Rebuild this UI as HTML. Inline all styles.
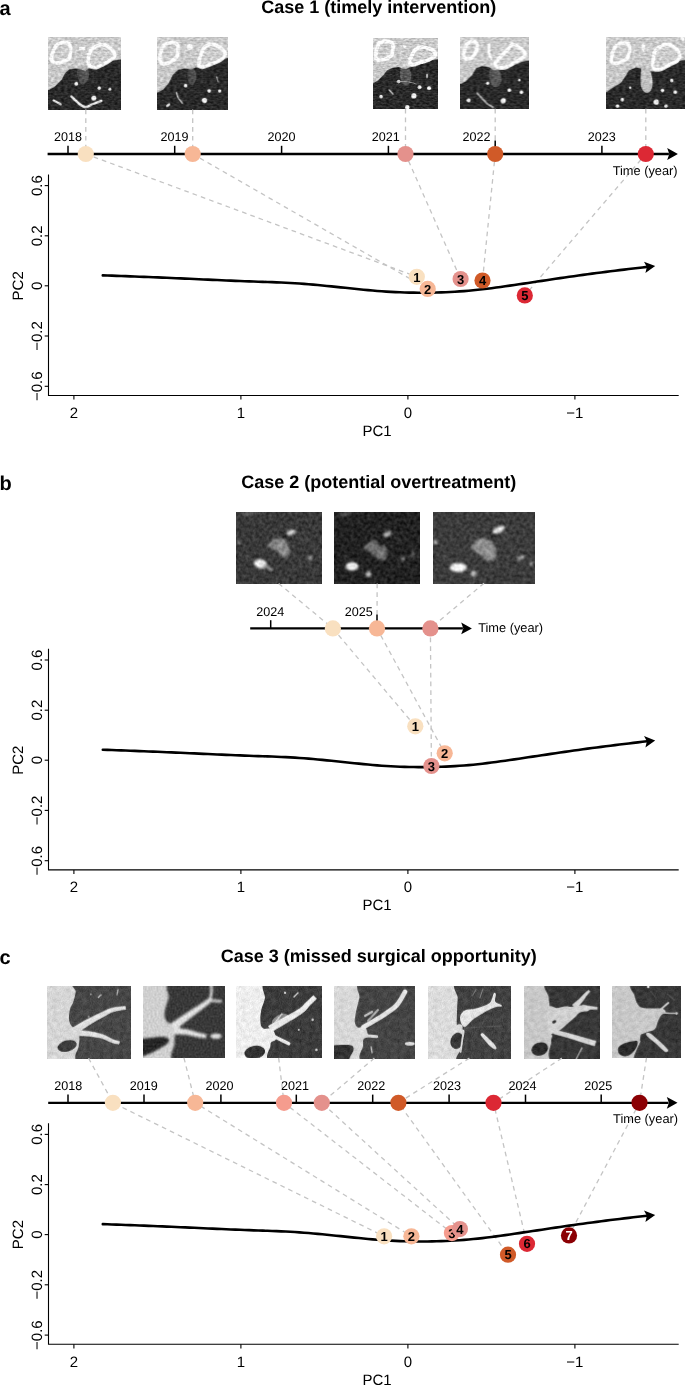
<!DOCTYPE html><html><head><meta charset="utf-8"><style>html,body{margin:0;padding:0;background:#fff;width:685px;height:1385px;overflow:hidden}svg{display:block;will-change:transform}text{font-family:"Liberation Sans", sans-serif;text-rendering:geometricPrecision}</style></head><body>
<svg width="685" height="1385" viewBox="0 0 685 1385">
<defs><filter id="fa" x="0" y="0" width="100%" height="100%" color-interpolation-filters="sRGB"><feGaussianBlur in="SourceGraphic" stdDeviation="0.45" result="b"/><feTurbulence type="fractalNoise" baseFrequency="0.3 0.6" numOctaves="2" seed="3" result="n0"/><feGaussianBlur in="n0" stdDeviation="0.6" result="n"/><feColorMatrix in="n" type="matrix" values="1 0 0 0 0  1 0 0 0 0  1 0 0 0 0  0 0 0 0 1" result="g"/><feComposite in="b" in2="g" operator="arithmetic" k1="0.2" k2="0.9" k3="0.3" k4="-0.15"/></filter><filter id="fb" x="0" y="0" width="100%" height="100%" color-interpolation-filters="sRGB"><feGaussianBlur in="SourceGraphic" stdDeviation="0.9" result="b"/><feTurbulence type="fractalNoise" baseFrequency="0.3" numOctaves="2" seed="7" result="n0"/><feGaussianBlur in="n0" stdDeviation="0.7" result="n"/><feColorMatrix in="n" type="matrix" values="1 0 0 0 0  1 0 0 0 0  1 0 0 0 0  0 0 0 0 1" result="g"/><feComposite in="b" in2="g" operator="arithmetic" k1="0.0" k2="1.0" k3="0.3" k4="-0.15"/></filter><filter id="fc" x="0" y="0" width="100%" height="100%" color-interpolation-filters="sRGB"><feGaussianBlur in="SourceGraphic" stdDeviation="0.55" result="b"/><feTurbulence type="fractalNoise" baseFrequency="0.3" numOctaves="2" seed="11" result="n1"/><feGaussianBlur in="n1" stdDeviation="0.8" result="m1"/><feColorMatrix in="m1" type="matrix" values="1 0 0 0 0  1 0 0 0 0  1 0 0 0 0  0 0 0 0 1" result="g1"/><feComposite in="b" in2="g1" operator="arithmetic" k1="0" k2="1" k3="0.3" k4="-0.15" result="c1"/><feTurbulence type="fractalNoise" baseFrequency="0.9" numOctaves="1" seed="12" result="n2"/><feColorMatrix in="n2" type="matrix" values="1 0 0 0 0  1 0 0 0 0  1 0 0 0 0  0 0 0 0 1" result="g2"/><feComposite in="c1" in2="g2" operator="arithmetic" k1="0" k2="1" k3="0.18" k4="-0.09"/></filter><filter id="fc2" x="0" y="0" width="100%" height="100%" color-interpolation-filters="sRGB"><feGaussianBlur in="SourceGraphic" stdDeviation="1.0" result="b"/><feTurbulence type="fractalNoise" baseFrequency="0.5" numOctaves="2" seed="13" result="n0"/><feGaussianBlur in="n0" stdDeviation="0.4" result="n"/><feColorMatrix in="n" type="matrix" values="1 0 0 0 0  1 0 0 0 0  1 0 0 0 0  0 0 0 0 1" result="g"/><feComposite in="b" in2="g" operator="arithmetic" k1="0.0" k2="1.0" k3="0.2" k4="-0.1"/></filter></defs>
<rect width="685" height="1385" fill="#fff"/>
<g transform="translate(0,0)">
<text x="-0.6" y="15.2" font-size="20" font-weight="bold">a</text>
<text x="378.8" y="13.3" font-size="18" font-weight="bold" text-anchor="middle">Case 1 (timely intervention)</text>
<svg x="48.1" y="36.8" width="72.3" height="72.7" viewBox="0 0 72.3 72.7" preserveAspectRatio="none" overflow="hidden"><g filter="url(#fa)"><rect x="-4" y="-4" width="80.3" height="80.7" fill="#c9c9c9"/><polygon points="-4,53.3 0,53.3 6.4,50 13.9,42.6 17,36.2 21.3,32.5 27.7,31.4 33,32.5 37.3,34.1 40.5,31.5 48,31.4 55.4,28.8 64,24 72.3,22.4 76.3,22.4 76.3,76.7 -4,76.7" fill="#2a2a2a" /><path d="M9.11,7.66 C11.11,6.37 15.46,5.47 17.59,5.61 C19.72,5.74 21.04,7.02 21.88,8.46 C22.72,9.9 22.68,12.2 22.64,14.23 C22.6,16.26 22.52,19.08 21.65,20.67 C20.78,22.26 19.35,22.91 17.42,23.78 C15.49,24.64 12.26,25.73 10.06,25.88 C7.87,26.03 5.35,25.6 4.24,24.67 C3.13,23.74 3.18,22.19 3.41,20.3 C3.63,18.41 4.65,15.43 5.6,13.33 C6.55,11.22 7.11,8.95 9.11,7.66Z" fill="#cccccc" stroke="#ffffff" stroke-width="3.6"/><path d="M45.66,10.71 C47.46,9.29 49.82,7.99 52.17,7.8 C54.53,7.61 57.53,8.33 59.8,9.57 C62.06,10.81 64.66,13.5 65.75,15.25 C66.83,17.01 67.48,18.35 66.31,20.08 C65.13,21.81 61.69,23.85 58.71,25.61 C55.73,27.37 51.27,30.12 48.4,30.66 C45.54,31.2 42.88,29.95 41.51,28.83 C40.14,27.71 40.21,26.03 40.18,23.94 C40.16,21.86 40.45,18.53 41.36,16.32 C42.27,14.12 43.86,12.13 45.66,10.71Z" fill="#cccccc" stroke="#ffffff" stroke-width="3.6"/><polygon points="31,10 37.3,10 37.3,13.3 31,13.3" fill="#ffffff" /><path d="M31,29 C32.08,28.25 34.5,28 36,28.5 C37.5,29 39.17,30.08 40,32 C40.83,33.92 41.33,37.67 41,40 C40.67,42.33 39.33,44.83 38,46 C36.67,47.17 34.42,48 33,47 C31.58,46 30.08,42.33 29.5,40 C28.92,37.67 29.25,34.83 29.5,33 C29.75,31.17 29.92,29.75 31,29Z" fill="#a0a0a0" opacity="0.35"/><circle cx="28.2" cy="46.9" r="1.9" fill="#f2f2f2"/><circle cx="45.8" cy="61.3" r="2.5" fill="#f2f2f2"/><circle cx="51.2" cy="51.2" r="1.7" fill="#f2f2f2"/><circle cx="61.8" cy="52.2" r="1.5" fill="#f2f2f2"/><path d="M23.4,59.7 C24.5,60.75 27.68,64.23 30,66 C32.32,67.77 34.8,70.13 37.3,70.3 C39.8,70.47 42.33,68.05 45,67 C47.67,65.95 51.92,64.5 53.3,64" fill="none" stroke="#e8e8e8" stroke-width="2.4" stroke-linecap="round" stroke-linejoin="round" /><path d="M5.4,63.5 C6.63,64.17 11.57,66.83 12.8,67.5" fill="none" stroke="#e0e0e0" stroke-width="2" stroke-linecap="round" stroke-linejoin="round" /></g></svg>
<svg x="157.2" y="36.8" width="71" height="72.7" viewBox="0 0 71 72.7" preserveAspectRatio="none" overflow="hidden"><g filter="url(#fa)"><rect x="-4" y="-4" width="79" height="80.7" fill="#c9c9c9"/><polygon points="-4,55.7 0,55.7 6.3,52.6 11.6,46.3 15.8,37.8 21,33.1 27.3,31.5 33.6,32.6 38.9,30.5 46.3,31.5 54.7,27.9 63,22.6 71,21 75,21 75,76.7 -4,76.7" fill="#2a2a2a" /><path d="M6.95,8.04 C8.77,6.91 13.07,5.47 15.32,5.52 C17.57,5.56 19.55,6.76 20.45,8.33 C21.35,9.9 20.92,12.91 20.72,14.92 C20.52,16.93 20.33,18.78 19.25,20.37 C18.17,21.96 16.3,23.36 14.23,24.48 C12.16,25.6 8.78,27.15 6.84,27.11 C4.91,27.07 3.29,25.69 2.64,24.26 C1.99,22.84 2.66,20.54 2.96,18.55 C3.25,16.56 3.74,14.06 4.41,12.31 C5.07,10.56 5.13,9.17 6.95,8.04Z" fill="#cccccc" stroke="#ffffff" stroke-width="3.6"/><path d="M47.13,10.55 C48.69,8.6 50.59,7.43 52.77,7.19 C54.96,6.94 58.04,8.08 60.24,9.08 C62.45,10.08 64.73,11.7 66.02,13.18 C67.32,14.66 68.52,16.23 68,17.96 C67.48,19.68 65.11,22 62.89,23.5 C60.66,25.01 57.62,25.85 54.63,27 C51.64,28.15 47.12,30.3 44.96,30.39 C42.79,30.49 41.89,29.5 41.63,27.58 C41.37,25.66 42.48,21.69 43.4,18.86 C44.31,16.02 45.57,12.49 47.13,10.55Z" fill="#cccccc" stroke="#ffffff" stroke-width="3.6"/><circle cx="32.6" cy="10" r="3" fill="#ffffff"/><path d="M31,33 C31.83,31.75 33.83,31.33 35,31.5 C36.17,31.67 37.33,32.25 38,34 C38.67,35.75 39.33,39.67 39,42 C38.67,44.33 37.17,47.33 36,48 C34.83,48.67 33,47.5 32,46 C31,44.5 30.17,41.17 30,39 C29.83,36.83 30.17,34.25 31,33Z" fill="#a0a0a0" opacity="0.3"/><circle cx="28.4" cy="48.9" r="1.8" fill="#f2f2f2"/><circle cx="52" cy="54.1" r="1.8" fill="#f2f2f2"/><circle cx="62.5" cy="54.1" r="1.7" fill="#f2f2f2"/><circle cx="47.3" cy="63.6" r="2.6" fill="#f2f2f2"/><ellipse cx="11" cy="68.3" rx="2.5" ry="1.3" transform="rotate(-40 11 68.3)" fill="#ddd" /><path d="M19.4,55.7 C19.67,56.58 20.03,59.25 21,61 C21.97,62.75 24.5,65.33 25.2,66.2" fill="none" stroke="#bdbdbd" stroke-width="1.4" stroke-linecap="round" stroke-linejoin="round" /><path d="M59.5,40 C59.75,40.83 60.75,44.17 61,45" fill="none" stroke="#aaa" stroke-width="1.2" stroke-linecap="round" stroke-linejoin="round" /></g></svg>
<svg x="373.1" y="37.9" width="64.8" height="70.9" viewBox="0 0 64.8 70.9" preserveAspectRatio="none" overflow="hidden"><g filter="url(#fa)"><rect x="-4" y="-4" width="72.8" height="78.9" fill="#c9c9c9"/><polygon points="-4,45.5 0,45.5 5.7,41.7 10.4,37 14.2,32.3 19,29.9 25.6,28.9 29.4,30.4 33,31 36,29.4 42.7,28.5 50.3,24.7 57,22.3 64.8,21.3 68.8,21.3 68.8,74.9 -4,74.9" fill="#2a2a2a" /><path d="M6.43,5 C8.05,3.87 11.74,3.28 13.83,3.25 C15.91,3.22 17.9,3.69 18.93,4.81 C19.95,5.92 19.94,7.99 19.97,9.94 C20,11.89 19.9,14.89 19.13,16.51 C18.36,18.14 17.22,18.71 15.37,19.71 C13.52,20.7 10.03,22.27 8.03,22.47 C6.04,22.67 4.26,22.02 3.37,20.89 C2.49,19.77 2.6,17.56 2.72,15.75 C2.85,13.93 3.48,11.81 4.1,10.02 C4.72,8.23 4.8,6.13 6.43,5Z" fill="#cccccc" stroke="#ffffff" stroke-width="3.6"/><path d="M41.9,12.27 C43.26,11.04 45.24,9.29 47.57,8.99 C49.9,8.69 53.62,9.69 55.9,10.48 C58.18,11.27 60.29,12.45 61.26,13.71 C62.23,14.97 62.63,16.66 61.7,18.05 C60.78,19.44 58.06,21.01 55.71,22.06 C53.37,23.1 50.39,23.55 47.61,24.32 C44.83,25.08 40.89,26.82 39.02,26.64 C37.15,26.46 36.31,24.93 36.37,23.22 C36.43,21.51 38.47,18.21 39.39,16.38 C40.31,14.56 40.53,13.5 41.9,12.27Z" fill="#cccccc" stroke="#ffffff" stroke-width="3.6"/><polygon points="29.4,6.7 34.2,8.5 31,10.5" fill="#ffffff" /><path d="M28,30 C29,28.58 31.5,29.17 33,29.5 C34.5,29.83 36.17,30.25 37,32 C37.83,33.75 38.33,37.5 38,40 C37.67,42.5 36.33,46 35,47 C33.67,48 31.33,47.5 30,46 C28.67,44.5 27.33,40.67 27,38 C26.67,35.33 27,31.42 28,30Z" fill="#a0a0a0" opacity="0.4"/><circle cx="25.6" cy="43.6" r="1.8" fill="#f2f2f2"/><circle cx="46.5" cy="49.3" r="2" fill="#f2f2f2"/><circle cx="56" cy="50.3" r="2" fill="#f2f2f2"/><circle cx="40.8" cy="57.9" r="2.6" fill="#f2f2f2"/><circle cx="8" cy="58.8" r="1.8" fill="#f2f2f2"/><ellipse cx="54" cy="38" rx="1" ry="2.5" transform="rotate(0 54 38)" fill="#ccc" /><circle cx="34.2" cy="69.3" r="2.2" fill="#f2f2f2"/><path d="M16,52 C16.67,52.67 19.33,55.33 20,56" fill="none" stroke="#bbb" stroke-width="1.4" stroke-linecap="round" stroke-linejoin="round" /><path d="M24,44 C25.17,43.92 28.67,43.42 31,43.5 C33.33,43.58 36,44.08 38,44.5 C40,44.92 42.17,45.75 43,46" fill="none" stroke="#9a9a9a" stroke-width="1" stroke-linecap="round" stroke-linejoin="round" /></g></svg>
<svg x="460.5" y="36.8" width="68.3" height="72" viewBox="0 0 68.3 72" preserveAspectRatio="none" overflow="hidden"><g filter="url(#fa)"><rect x="-4" y="-4" width="76.3" height="80" fill="#c9c9c9"/><polygon points="-4,47.3 0,47.3 5.5,44.3 11.6,38.3 15.6,31.2 21.7,29.2 28.7,30.2 32.7,33.2 38.8,33.2 46.8,32.2 53.9,28.2 61.9,24.7 68.3,23.7 72.3,23.7 72.3,76 -4,76" fill="#2a2a2a" /><path d="M6.19,7.42 C7.44,6.35 10.48,4.59 12.21,4.54 C13.93,4.5 15.89,5.81 16.56,7.14 C17.23,8.46 16.69,10.64 16.21,12.49 C15.74,14.34 14.8,16.65 13.7,18.23 C12.59,19.82 11.17,21.5 9.6,22 C8.03,22.5 5.35,22.13 4.29,21.24 C3.23,20.35 3.17,18.38 3.25,16.66 C3.32,14.94 4.26,12.47 4.75,10.93 C5.24,9.39 4.95,8.48 6.19,7.42Z" fill="#cccccc" stroke="#ffffff" stroke-width="3.6"/><path d="M34.99,25.86 C35.88,24.02 39.14,20.72 41.18,18.51 C43.23,16.3 45.5,14.45 47.25,12.63 C49,10.8 50.03,8.11 51.67,7.58 C53.31,7.05 55.24,8.39 57.08,9.44 C58.93,10.49 61.47,12.38 62.72,13.88 C63.98,15.38 65.3,16.92 64.61,18.43 C63.91,19.94 61.04,21.34 58.58,22.93 C56.12,24.53 52.54,26.62 49.87,28 C47.19,29.38 44.88,30.95 42.54,31.21 C40.2,31.48 37.1,30.48 35.84,29.59 C34.58,28.7 34.1,27.71 34.99,25.86Z" fill="#cccccc" stroke="#ffffff" stroke-width="3.6"/><path d="M28.7,7 C28.7,8.5 28.32,13.5 28.7,16 C29.08,18.5 30.62,21 31,22" fill="none" stroke="#ffffff" stroke-width="2.4" stroke-linecap="round" stroke-linejoin="round" /><path d="M30,32 C31.17,30.5 34.33,31.33 36,32 C37.67,32.67 39.17,34 40,36 C40.83,38 41.5,41.67 41,44 C40.5,46.33 38.5,49.17 37,50 C35.5,50.83 33.33,50.5 32,49 C30.67,47.5 29.33,43.83 29,41 C28.67,38.17 28.83,33.5 30,32Z" fill="#a0a0a0" opacity="0.4"/><circle cx="8.1" cy="63.4" r="2" fill="#f2f2f2"/><circle cx="42.8" cy="63.9" r="2.6" fill="#f2f2f2"/><circle cx="48.8" cy="53.4" r="1.8" fill="#f2f2f2"/><circle cx="60.9" cy="55.4" r="1.8" fill="#f2f2f2"/><circle cx="27.2" cy="46.3" r="1.6" fill="#f2f2f2"/><circle cx="58.9" cy="43.3" r="1.2" fill="#f2f2f2"/><path d="M16.6,56.4 C17.5,57.33 20.27,60.23 22,62 C23.73,63.77 25.22,65.58 27,67 C28.78,68.42 31.75,69.92 32.7,70.5" fill="none" stroke="#a8a8a8" stroke-width="1.8" stroke-linecap="round" stroke-linejoin="round" /></g></svg>
<svg x="606.2" y="36.8" width="80" height="72" viewBox="0 0 80 72" preserveAspectRatio="none" overflow="hidden"><g filter="url(#fa)"><rect x="-4" y="-4" width="88" height="80" fill="#c9c9c9"/><polygon points="-4,55.4 0,55.4 6.7,50.7 14.8,46.1 19.4,39.2 22.9,33.4 29.8,30.6 36.7,32.3 38,36 43.6,34.6 52.9,34.6 62.1,28.8 71.3,24.2 80,23 84,23 84,76 -4,76" fill="#2a2a2a" /><path d="M10.75,8.39 C12.4,7.33 15.79,6.17 17.83,6.12 C19.87,6.07 22.09,6.52 22.99,8.07 C23.88,9.61 23.43,13.32 23.21,15.37 C22.99,17.42 22.75,18.87 21.66,20.36 C20.57,21.84 18.68,23.22 16.67,24.27 C14.66,25.31 11.45,26.56 9.58,26.62 C7.7,26.69 6.06,26.02 5.42,24.64 C4.79,23.27 5.36,20.42 5.76,18.39 C6.17,16.36 7.05,14.12 7.88,12.45 C8.71,10.79 9.09,9.45 10.75,8.39Z" fill="#cccccc" stroke="#ffffff" stroke-width="3.6"/><path d="M49.33,13.72 C50.86,11.82 54.46,9.54 56.54,8.48 C58.61,7.42 59.5,6.69 61.77,7.36 C64.04,8.03 68.2,10.76 70.15,12.49 C72.09,14.22 73.25,15.83 73.42,17.75 C73.59,19.67 72.79,22.33 71.15,24.01 C69.52,25.7 66.22,26.47 63.61,27.84 C61.01,29.21 57.97,31.47 55.55,32.24 C53.12,33.02 50.56,33.17 49.07,32.5 C47.57,31.83 46.85,30.34 46.57,28.24 C46.3,26.13 46.94,22.29 47.4,19.87 C47.86,17.45 47.81,15.62 49.33,13.72Z" fill="#cccccc" stroke="#ffffff" stroke-width="3.6"/><path d="M35.6,8 C35.93,7 37.43,6.5 38,7 C38.57,7.5 39.08,9.67 39,11 C38.92,12.33 38,14.67 37.5,15 C37,15.33 36.32,14.17 36,13 C35.68,11.83 35.27,9 35.6,8Z" fill="#ffffff" /><path d="M36,29 C37.17,28.5 40.5,28.67 42,30 C43.5,31.33 44.25,34.33 45,37 C45.75,39.67 46.58,43.17 46.5,46 C46.42,48.83 45.75,52.42 44.5,54 C43.25,55.58 40.58,56.17 39,55.5 C37.42,54.83 35.75,52.42 35,50 C34.25,47.58 34.5,43.83 34.5,41 C34.5,38.17 34.75,35 35,33 C35.25,31 34.83,29.5 36,29Z" fill="#c2c2c2" /><circle cx="50" cy="65.2" r="2.6" fill="#f2f2f2"/><circle cx="56.3" cy="53.6" r="1.8" fill="#f2f2f2"/><circle cx="65.5" cy="43.8" r="1.8" fill="#f2f2f2"/><circle cx="69" cy="55.4" r="1.8" fill="#f2f2f2"/><circle cx="16" cy="62.9" r="1.8" fill="#f2f2f2"/><circle cx="24" cy="50.7" r="1.2" fill="#f2f2f2"/><circle cx="11.3" cy="69.2" r="1.8" fill="#f2f2f2"/><circle cx="59.8" cy="69.2" r="1.8" fill="#f2f2f2"/><circle cx="76" cy="2" r="2" fill="#ffffff"/></g></svg>
<polyline points="85.8,109.5 85.8,154 416.8,276.8" fill="none" stroke="#c4c4c4" stroke-width="1.3" stroke-dasharray="4.7 4.1"/>
<polyline points="192.7,109.5 192.7,154 427.7,288.9" fill="none" stroke="#c4c4c4" stroke-width="1.3" stroke-dasharray="4.7 4.1"/>
<polyline points="405.5,108.8 405.5,154 460.6,279" fill="none" stroke="#c4c4c4" stroke-width="1.3" stroke-dasharray="4.7 4.1"/>
<polyline points="495.2,108.8 495.2,154 482.5,280.5" fill="none" stroke="#c4c4c4" stroke-width="1.3" stroke-dasharray="4.7 4.1"/>
<polyline points="645.8,108.8 645.8,154 524.8,295.4" fill="none" stroke="#c4c4c4" stroke-width="1.3" stroke-dasharray="4.7 4.1"/>
<line x1="47.6" y1="154" x2="668.9" y2="154" stroke="#000" stroke-width="2.3"/>
<path d="M677.9,154 L667.2,148.1 L669.3,154 L667.2,159.9 Z" fill="#000"/>
<line x1="68" y1="145.8" x2="68" y2="154" stroke="#000" stroke-width="1.5"/>
<text x="68" y="141.4" font-size="12.6" text-anchor="middle">2018</text>
<line x1="174.7" y1="145.8" x2="174.7" y2="154" stroke="#000" stroke-width="1.5"/>
<text x="174.5" y="141.4" font-size="12.6" text-anchor="middle">2019</text>
<line x1="281.6" y1="145.8" x2="281.6" y2="154" stroke="#000" stroke-width="1.5"/>
<text x="281.6" y="141.4" font-size="12.6" text-anchor="middle">2020</text>
<line x1="388.4" y1="145.8" x2="388.4" y2="154" stroke="#000" stroke-width="1.5"/>
<text x="385.8" y="141.4" font-size="12.6" text-anchor="middle">2021</text>
<line x1="495.2" y1="140.5" x2="495.2" y2="154" stroke="#000" stroke-width="1.5"/>
<text x="476.4" y="141.4" font-size="12.6" text-anchor="middle">2022</text>
<line x1="601.9" y1="145.8" x2="601.9" y2="154" stroke="#000" stroke-width="1.5"/>
<text x="601.7" y="141.4" font-size="12.6" text-anchor="middle">2023</text>
<circle cx="85.8" cy="154" r="8.1" fill="#F9E0C0"/>
<circle cx="192.7" cy="154" r="8.1" fill="#F7B796"/>
<circle cx="405.5" cy="154" r="8.1" fill="#E4918C"/>
<circle cx="495.2" cy="154" r="8.1" fill="#D05A28"/>
<circle cx="645.8" cy="154" r="8.1" fill="#DC2834"/>
<text x="612.7" y="174.7" font-size="12.8">Time (year)</text>
<path d="M48.5,174.4 V395.5 H678.7" fill="none" stroke="#000" stroke-width="1.1"/>
<line x1="44.7" y1="185.6" x2="48.5" y2="185.6" stroke="#000" stroke-width="1.1"/>
<text transform="translate(41.6,185.6) rotate(-90)" font-size="15" text-anchor="middle">0.6</text>
<line x1="44.7" y1="235.8" x2="48.5" y2="235.8" stroke="#000" stroke-width="1.1"/>
<text transform="translate(41.6,235.8) rotate(-90)" font-size="15" text-anchor="middle">0.2</text>
<line x1="44.7" y1="285.8" x2="48.5" y2="285.8" stroke="#000" stroke-width="1.1"/>
<text transform="translate(41.6,285.8) rotate(-90)" font-size="15" text-anchor="middle">0</text>
<line x1="44.7" y1="336" x2="48.5" y2="336" stroke="#000" stroke-width="1.1"/>
<text transform="translate(41.6,336) rotate(-90)" font-size="15" text-anchor="middle">−0.2</text>
<line x1="44.7" y1="386.3" x2="48.5" y2="386.3" stroke="#000" stroke-width="1.1"/>
<text transform="translate(41.6,386.3) rotate(-90)" font-size="15" text-anchor="middle">−0.6</text>
<text transform="translate(23.2,285.8) rotate(-90)" font-size="15" text-anchor="middle">PC2</text>
<line x1="73.9" y1="395.5" x2="73.9" y2="399.6" stroke="#000" stroke-width="1.1"/>
<text x="73.9" y="418" font-size="15" text-anchor="middle">2</text>
<line x1="240.9" y1="395.5" x2="240.9" y2="399.6" stroke="#000" stroke-width="1.1"/>
<text x="240.9" y="418" font-size="15" text-anchor="middle">1</text>
<line x1="407.9" y1="395.5" x2="407.9" y2="399.6" stroke="#000" stroke-width="1.1"/>
<text x="407.9" y="418" font-size="15" text-anchor="middle">0</text>
<line x1="574.9" y1="395.5" x2="574.9" y2="399.6" stroke="#000" stroke-width="1.1"/>
<text x="574.9" y="418" font-size="15" text-anchor="middle">−1</text>
<text x="377" y="436" font-size="15" text-anchor="middle">PC1</text>
<path d="M102.8,275.35 L107.37,275.51 L111.95,275.67 L116.52,275.84 L121.09,276 L125.67,276.17 L130.24,276.33 L134.81,276.5 L139.38,276.68 L143.96,276.85 L148.53,277.03 L153.1,277.21 L157.68,277.39 L162.25,277.58 L166.82,277.78 L171.4,277.98 L175.97,278.18 L180.54,278.38 L185.12,278.59 L189.69,278.8 L194.26,279.01 L198.84,279.22 L203.41,279.43 L207.98,279.64 L212.55,279.85 L217.13,280.06 L221.7,280.26 L226.27,280.46 L230.85,280.65 L235.42,280.84 L239.99,281.02 L244.57,281.2 L249.14,281.37 L253.71,281.53 L258.29,281.69 L262.86,281.84 L267.43,282 L272.01,282.17 L276.58,282.35 L281.15,282.54 L285.72,282.76 L290.3,283 L294.87,283.26 L299.44,283.56 L304.02,283.9 L308.59,284.26 L313.16,284.65 L317.74,285.06 L322.31,285.49 L326.88,285.94 L331.46,286.4 L336.03,286.87 L340.6,287.35 L345.17,287.83 L349.75,288.31 L354.32,288.79 L358.89,289.26 L363.47,289.71 L368.04,290.15 L372.61,290.56 L377.19,290.94 L381.76,291.28 L386.33,291.59 L390.91,291.87 L395.48,292.1 L400.05,292.3 L404.63,292.46 L409.2,292.58 L413.77,292.66 L418.34,292.71 L422.92,292.71 L427.49,292.68 L432.06,292.61 L436.64,292.5 L441.21,292.36 L445.78,292.18 L450.36,291.96 L454.93,291.71 L459.5,291.41 L464.08,291.08 L468.65,290.7 L473.22,290.28 L477.79,289.81 L482.37,289.3 L486.94,288.75 L491.51,288.17 L496.09,287.56 L500.66,286.93 L505.23,286.29 L509.81,285.63 L514.38,284.96 L518.95,284.29 L523.53,283.61 L528.1,282.93 L532.67,282.25 L537.25,281.56 L541.82,280.88 L546.39,280.19 L550.96,279.51 L555.54,278.83 L560.11,278.16 L564.68,277.49 L569.26,276.83 L573.83,276.17 L578.4,275.52 L582.98,274.89 L587.55,274.26 L592.12,273.64 L596.7,273.04 L601.27,272.44 L605.84,271.85 L610.42,271.27 L614.99,270.7 L619.56,270.14 L624.13,269.59 L628.71,269.04 L633.28,268.5 L637.85,267.97 L642.43,267.43 L647,266.9" fill="none" stroke="#000" stroke-width="2.6" stroke-linecap="round"/>
<path d="M655.2,266.1 L644,261.7 L646.9,266.9 L645.4,273.1 Z" fill="#000"/>
<circle cx="416.8" cy="276.8" r="8.1" fill="#F9E0C0"/>
<text x="416.8" y="281.5" font-size="13" font-weight="bold" text-anchor="middle" fill="#000">1</text>
<circle cx="427.7" cy="288.9" r="8.1" fill="#F7B796"/>
<text x="427.7" y="293.6" font-size="13" font-weight="bold" text-anchor="middle" fill="#000">2</text>
<circle cx="460.6" cy="279" r="8.1" fill="#E4918C"/>
<text x="460.6" y="283.7" font-size="13" font-weight="bold" text-anchor="middle" fill="#000">3</text>
<circle cx="482.5" cy="280.5" r="8.1" fill="#D05A28"/>
<text x="482.5" y="285.2" font-size="13" font-weight="bold" text-anchor="middle" fill="#000">4</text>
<circle cx="524.8" cy="295.4" r="8.1" fill="#DC2834"/>
<text x="524.8" y="300.1" font-size="13" font-weight="bold" text-anchor="middle" fill="#000">5</text>
</g>
<g transform="translate(0,474.4)">
<text x="-0.6" y="15.2" font-size="20" font-weight="bold">b</text>
<text x="378.8" y="13.3" font-size="18" font-weight="bold" text-anchor="middle">Case 2 (potential overtreatment)</text>
<svg x="235.9" y="37.3" width="85.5" height="71.8" viewBox="0 0 85.5 71.8" preserveAspectRatio="none" overflow="hidden"><g filter="url(#fb)"><rect x="-4" y="-4" width="93.5" height="79.8" fill="#393939"/><polygon points="30.8,33.3 36.4,28.2 41.4,26.4 47.7,27 50.2,29.5 52.7,33.9 54,40.2 52.1,45.2 47.7,45.8 43.9,42.7 40.2,38.9 35.2,36.4" fill="#858585" /><circle cx="44" cy="33" r="3" fill="#9a9a9a"/><circle cx="49" cy="40" r="2.5" fill="#959595"/><circle cx="38" cy="31" r="2" fill="#7a7a7a"/><ellipse cx="50" cy="24.5" rx="4" ry="1.6" transform="rotate(-20 50 24.5)" fill="#222" /><ellipse cx="24.5" cy="52.1" rx="6.5" ry="4.5" transform="rotate(10 24.5 52.1)" fill="#f4f4f4" /><path d="M28,54 C29.2,54.58 34,56.92 35.2,57.5" fill="none" stroke="#9a9a9a" stroke-width="3" stroke-linecap="round" stroke-linejoin="round" /><ellipse cx="55.2" cy="20.7" rx="4.6" ry="2.2" transform="rotate(-20 55.2 20.7)" fill="#ececec" /><path d="M58,22 C59.33,22.83 63.67,25.67 66,27 C68.33,28.33 71,29.5 72,30" fill="none" stroke="#555" stroke-width="1.2" stroke-linecap="round" stroke-linejoin="round" /><ellipse cx="74" cy="46.5" rx="3" ry="2" transform="rotate(-20 74 46.5)" fill="#8a8a8a" /><circle cx="3" cy="30.8" r="1.8" fill="#8a8a8a"/><ellipse cx="14" cy="1.5" rx="8" ry="1.8" transform="rotate(-10 14 1.5)" fill="#666" /></g></svg>
<svg x="334.2" y="37.3" width="85.9" height="71.8" viewBox="0 0 85.9 71.8" preserveAspectRatio="none" overflow="hidden"><g filter="url(#fb)"><rect x="-4" y="-4" width="93.9" height="79.8" fill="#222222"/><polygon points="28.6,36.2 34.3,30.5 40.6,28.6 45.1,30.5 49.5,32.4 52.1,36.8 53.3,43.2 50.8,48.3 44.5,48.3 39.4,43.2 34.3,39.4" fill="#6e6e6e" /><circle cx="38" cy="33" r="2.5" fill="#7c7c7c"/><circle cx="47" cy="42" r="3" fill="#7a7a7a"/><ellipse cx="47" cy="30.5" rx="2.3" ry="4.5" transform="rotate(25 47 30.5)" fill="#161616" /><ellipse cx="53.3" cy="22.2" rx="4.6" ry="2.2" transform="rotate(-25 53.3 22.2)" fill="#bdbdbd" /><ellipse cx="17.8" cy="54.6" rx="6.5" ry="4.2" transform="rotate(0 17.8 54.6)" fill="#f4f4f4" /><circle cx="34.3" cy="62.2" r="2.8" fill="#c4c4c4"/><path d="M57,22 C58.17,22.83 62.5,25.5 64,27 C65.5,28.5 65.67,30.33 66,31" fill="none" stroke="#444" stroke-width="1.2" stroke-linecap="round" stroke-linejoin="round" /><circle cx="68.6" cy="47" r="2.2" fill="#888"/><ellipse cx="78.7" cy="43.2" rx="1.6" ry="3.6" transform="rotate(10 78.7 43.2)" fill="#666" /><ellipse cx="12" cy="2" rx="8" ry="1.8" transform="rotate(-15 12 2)" fill="#555" /></g></svg>
<svg x="433.2" y="37.3" width="101.6" height="71.5" viewBox="0 0 101.6 71.5" preserveAspectRatio="none" overflow="hidden"><g filter="url(#fb)"><rect x="-4" y="-4" width="109.6" height="79.5" fill="#3c3c3c"/><polygon points="37.2,35 43.2,28.3 50.6,26.1 58.1,29 62.5,35.7 63.3,44.7 59.6,49.1 53.6,49.1 47.6,43.2 41.7,40.2" fill="#8c8c8c" /><circle cx="46" cy="31" r="2.5" fill="#a0a0a0"/><circle cx="55" cy="40" r="3" fill="#9c9c9c"/><circle cx="57" cy="33" r="2" fill="#808080"/><ellipse cx="60" cy="25" rx="3.5" ry="1.8" transform="rotate(-25 60 25)" fill="#2a2a2a" /><ellipse cx="65.5" cy="17.9" rx="6.5" ry="2.8" transform="rotate(-25 65.5 17.9)" fill="#f0f0f0" /><ellipse cx="25" cy="55.8" rx="8.5" ry="4.5" transform="rotate(0 25 55.8)" fill="#f6f6f6" /><circle cx="40.2" cy="61.8" r="2.8" fill="#c8c8c8"/><path d="M70,20 C71,21 75,25 76,26" fill="none" stroke="#5a5a5a" stroke-width="1.3" stroke-linecap="round" stroke-linejoin="round" /><ellipse cx="87.8" cy="46.2" rx="4" ry="2" transform="rotate(-30 87.8 46.2)" fill="#a8a8a8" /><circle cx="98" cy="52" r="2" fill="#8a8a8a"/><circle cx="2.2" cy="30.5" r="2" fill="#c8c8c8"/></g></svg>
<polyline points="278.65,109.1 332.9,154 415.3,251.9" fill="none" stroke="#c4c4c4" stroke-width="1.3" stroke-dasharray="4.7 4.1"/>
<polyline points="377.15,109.1 377,154 444.7,278.9" fill="none" stroke="#c4c4c4" stroke-width="1.3" stroke-dasharray="4.7 4.1"/>
<polyline points="484,108.8 430.4,154 431.4,291.6" fill="none" stroke="#c4c4c4" stroke-width="1.3" stroke-dasharray="4.7 4.1"/>
<line x1="250.2" y1="154" x2="462.9" y2="154" stroke="#000" stroke-width="2.3"/>
<path d="M471.9,154 L461.2,148.1 L463.3,154 L461.2,159.9 Z" fill="#000"/>
<line x1="270.7" y1="145.8" x2="270.7" y2="154" stroke="#000" stroke-width="1.5"/>
<text x="270.3" y="141.4" font-size="12.6" text-anchor="middle">2024</text>
<line x1="377" y1="140.2" x2="377" y2="154" stroke="#000" stroke-width="1.5"/>
<text x="358.7" y="141.4" font-size="12.6" text-anchor="middle">2025</text>
<circle cx="332.9" cy="154" r="8.1" fill="#F9E0C0"/>
<circle cx="377" cy="154" r="8.1" fill="#F7B796"/>
<circle cx="430.4" cy="154" r="8.1" fill="#E4918C"/>
<text x="478.2" y="157.5" font-size="12.8">Time (year)</text>
<path d="M48.5,174.4 V395.5 H678.7" fill="none" stroke="#000" stroke-width="1.1"/>
<line x1="44.7" y1="185.6" x2="48.5" y2="185.6" stroke="#000" stroke-width="1.1"/>
<text transform="translate(41.6,185.6) rotate(-90)" font-size="15" text-anchor="middle">0.6</text>
<line x1="44.7" y1="235.8" x2="48.5" y2="235.8" stroke="#000" stroke-width="1.1"/>
<text transform="translate(41.6,235.8) rotate(-90)" font-size="15" text-anchor="middle">0.2</text>
<line x1="44.7" y1="285.8" x2="48.5" y2="285.8" stroke="#000" stroke-width="1.1"/>
<text transform="translate(41.6,285.8) rotate(-90)" font-size="15" text-anchor="middle">0</text>
<line x1="44.7" y1="336" x2="48.5" y2="336" stroke="#000" stroke-width="1.1"/>
<text transform="translate(41.6,336) rotate(-90)" font-size="15" text-anchor="middle">−0.2</text>
<line x1="44.7" y1="386.3" x2="48.5" y2="386.3" stroke="#000" stroke-width="1.1"/>
<text transform="translate(41.6,386.3) rotate(-90)" font-size="15" text-anchor="middle">−0.6</text>
<text transform="translate(23.2,285.8) rotate(-90)" font-size="15" text-anchor="middle">PC2</text>
<line x1="73.9" y1="395.5" x2="73.9" y2="399.6" stroke="#000" stroke-width="1.1"/>
<text x="73.9" y="418" font-size="15" text-anchor="middle">2</text>
<line x1="240.9" y1="395.5" x2="240.9" y2="399.6" stroke="#000" stroke-width="1.1"/>
<text x="240.9" y="418" font-size="15" text-anchor="middle">1</text>
<line x1="407.9" y1="395.5" x2="407.9" y2="399.6" stroke="#000" stroke-width="1.1"/>
<text x="407.9" y="418" font-size="15" text-anchor="middle">0</text>
<line x1="574.9" y1="395.5" x2="574.9" y2="399.6" stroke="#000" stroke-width="1.1"/>
<text x="574.9" y="418" font-size="15" text-anchor="middle">−1</text>
<text x="377" y="436" font-size="15" text-anchor="middle">PC1</text>
<path d="M102.8,275.35 L107.37,275.51 L111.95,275.67 L116.52,275.84 L121.09,276 L125.67,276.17 L130.24,276.33 L134.81,276.5 L139.38,276.68 L143.96,276.85 L148.53,277.03 L153.1,277.21 L157.68,277.39 L162.25,277.58 L166.82,277.78 L171.4,277.98 L175.97,278.18 L180.54,278.38 L185.12,278.59 L189.69,278.8 L194.26,279.01 L198.84,279.22 L203.41,279.43 L207.98,279.64 L212.55,279.85 L217.13,280.06 L221.7,280.26 L226.27,280.46 L230.85,280.65 L235.42,280.84 L239.99,281.02 L244.57,281.2 L249.14,281.37 L253.71,281.53 L258.29,281.69 L262.86,281.84 L267.43,282 L272.01,282.17 L276.58,282.35 L281.15,282.54 L285.72,282.76 L290.3,283 L294.87,283.26 L299.44,283.56 L304.02,283.9 L308.59,284.26 L313.16,284.65 L317.74,285.06 L322.31,285.49 L326.88,285.94 L331.46,286.4 L336.03,286.87 L340.6,287.35 L345.17,287.83 L349.75,288.31 L354.32,288.79 L358.89,289.26 L363.47,289.71 L368.04,290.15 L372.61,290.56 L377.19,290.94 L381.76,291.28 L386.33,291.59 L390.91,291.87 L395.48,292.1 L400.05,292.3 L404.63,292.46 L409.2,292.58 L413.77,292.66 L418.34,292.71 L422.92,292.71 L427.49,292.68 L432.06,292.61 L436.64,292.5 L441.21,292.36 L445.78,292.18 L450.36,291.96 L454.93,291.71 L459.5,291.41 L464.08,291.08 L468.65,290.7 L473.22,290.28 L477.79,289.81 L482.37,289.3 L486.94,288.75 L491.51,288.17 L496.09,287.56 L500.66,286.93 L505.23,286.29 L509.81,285.63 L514.38,284.96 L518.95,284.29 L523.53,283.61 L528.1,282.93 L532.67,282.25 L537.25,281.56 L541.82,280.88 L546.39,280.19 L550.96,279.51 L555.54,278.83 L560.11,278.16 L564.68,277.49 L569.26,276.83 L573.83,276.17 L578.4,275.52 L582.98,274.89 L587.55,274.26 L592.12,273.64 L596.7,273.04 L601.27,272.44 L605.84,271.85 L610.42,271.27 L614.99,270.7 L619.56,270.14 L624.13,269.59 L628.71,269.04 L633.28,268.5 L637.85,267.97 L642.43,267.43 L647,266.9" fill="none" stroke="#000" stroke-width="2.6" stroke-linecap="round"/>
<path d="M655.2,266.1 L644,261.7 L646.9,266.9 L645.4,273.1 Z" fill="#000"/>
<circle cx="415.3" cy="251.9" r="8.1" fill="#F9E0C0"/>
<text x="415.3" y="256.6" font-size="13" font-weight="bold" text-anchor="middle" fill="#000">1</text>
<circle cx="444.7" cy="278.9" r="8.1" fill="#F7B796"/>
<text x="444.7" y="283.6" font-size="13" font-weight="bold" text-anchor="middle" fill="#000">2</text>
<circle cx="431.4" cy="291.6" r="8.1" fill="#E4918C"/>
<text x="431.4" y="296.3" font-size="13" font-weight="bold" text-anchor="middle" fill="#000">3</text>
</g>
<g transform="translate(0,948.8)">
<text x="-0.6" y="15.2" font-size="20" font-weight="bold">c</text>
<text x="378.8" y="13.3" font-size="18" font-weight="bold" text-anchor="middle">Case 3 (missed surgical opportunity)</text>
<svg x="46.9" y="37" width="83.3" height="72.3" viewBox="0 0 83.3 72.3" preserveAspectRatio="none" overflow="hidden"><g filter="url(#fc)"><rect x="-4" y="-4" width="91.3" height="80.3" fill="#d6d6d6"/><path d="M29.4,-4 C39.1,-5.68 77.4,-17.33 87,-4 C96.6,9.33 96.08,62.67 87,76 C77.92,89.33 41.7,78.67 32.5,76 C23.3,73.33 31.8,64 31.8,60 C31.8,56 32.8,54.58 32.5,52 C32.2,49.42 31.08,46.25 30,44.5 C28.92,42.75 27.2,42.75 26,41.5 C24.8,40.25 23.47,38.92 22.8,37 C22.13,35.08 21.88,32.5 22,30 C22.12,27.5 22.77,24.35 23.5,22 C24.23,19.65 25.52,18.55 26.4,15.9 C27.28,13.25 28.3,9.42 28.8,6.1 C29.3,2.78 19.7,-2.32 29.4,-4Z" fill="#474747" /><path d="M27.91,48.93 L28.97,48.19 L30.37,47.19 L32.02,46.02 L33.84,44.72 L35.78,43.36 L37.75,42 L39.68,40.7 L41.49,39.52 L43.26,38.42 L45.12,37.29 L47.01,36.18 L48.92,35.07 L50.8,34 L52.64,32.98 L54.4,32 L56.06,31.1 L57.6,30.25 L59.02,29.45 L60.34,28.72 L61.58,28.04 L62.79,27.42 L64,26.86 L65.24,26.33 L66.54,25.86 L68,25.42 L69.64,25.03 L71.39,24.68 L73.16,24.36 L74.86,24.09 L76.4,23.86 L77.72,23.66 L78.7,23.49 L78.3,20.51 L77.33,20.61 L76.03,20.72 L74.47,20.85 L72.71,21.01 L70.86,21.21 L68.99,21.45 L67.16,21.76 L65.46,22.14 L63.92,22.59 L62.48,23.08 L61.09,23.62 L59.73,24.21 L58.37,24.83 L56.98,25.48 L55.51,26.17 L53.94,26.9 L52.22,27.7 L50.38,28.56 L48.45,29.47 L46.46,30.43 L44.44,31.41 L42.43,32.42 L40.44,33.45 L38.51,34.48 L36.54,35.58 L34.45,36.78 L32.34,38.03 L30.28,39.28 L28.35,40.46 L26.62,41.53 L25.17,42.41 L24.09,43.07Z" fill="#e2e2e2" stroke="#e2e2e2" stroke-width="0.6" stroke-linejoin="round"/><path d="M27.83,49.74 L28.93,49.78 L30.4,49.82 L32.13,49.86 L34.03,49.91 L36.04,49.97 L38.04,50.06 L39.96,50.17 L41.71,50.32 L43.38,50.49 L45.06,50.68 L46.72,50.9 L48.36,51.13 L49.97,51.39 L51.52,51.68 L53.01,52.01 L54.42,52.36 L55.74,52.76 L57.03,53.25 L58.3,53.79 L59.56,54.37 L60.79,54.95 L62.01,55.53 L63.23,56.06 L64.42,56.52 L65.59,56.89 L66.75,57.21 L67.86,57.49 L68.92,57.73 L69.88,57.93 L70.73,58.1 L71.42,58.24 L71.96,58.36 L72.64,55.64 L72.09,55.49 L71.38,55.3 L70.55,55.08 L69.63,54.83 L68.65,54.55 L67.63,54.23 L66.59,53.87 L65.58,53.48 L64.57,53.03 L63.51,52.48 L62.37,51.86 L61.16,51.2 L59.87,50.51 L58.52,49.84 L57.08,49.2 L55.58,48.64 L54.04,48.16 L52.45,47.71 L50.81,47.31 L49.14,46.93 L47.44,46.58 L45.73,46.26 L44.01,45.96 L42.29,45.68 L40.44,45.42 L38.44,45.18 L36.38,44.97 L34.34,44.78 L32.41,44.62 L30.68,44.47 L29.24,44.35 L28.17,44.26Z" fill="#e2e2e2" stroke="#e2e2e2" stroke-width="0.6" stroke-linejoin="round"/><circle cx="29" cy="46" r="5.5" fill="#d6d6d6"/><ellipse cx="20.2" cy="60.1" rx="9.8" ry="5.5" transform="rotate(-15 20.2 60.1)" fill="#3c3c3c" /><path d="M51.5,11.5 C51.92,11.08 53.58,9.42 54,9" fill="none" stroke="#bbb" stroke-width="1.5" stroke-linecap="round" stroke-linejoin="round" /><path d="M71,4 C70.83,4.83 70.17,8.17 70,9" fill="none" stroke="#aaa" stroke-width="1.3" stroke-linecap="round" stroke-linejoin="round" /><circle cx="44" cy="8.6" r="1" fill="#999"/><circle cx="41.7" cy="30.7" r="1" fill="#888"/></g></svg>
<svg x="143" y="37" width="81.9" height="72" viewBox="0 0 81.9 72" preserveAspectRatio="none" overflow="hidden"><g filter="url(#fc2)"><rect x="-4" y="-4" width="89.9" height="80" fill="#d0d0d0"/><path d="M28.7,-4 C38.75,-6.67 76.45,-17.33 86,-4 C95.55,9.33 94.95,62.67 86,76 C77.05,89.33 41.38,79 32.3,76 C23.22,73 31.5,62.67 31.5,58 C31.5,53.33 31.55,50.17 32.3,48 C33.05,45.83 35.38,46.67 36,45 C36.62,43.33 36.5,39.42 36,38 C35.5,36.58 34.33,36.58 33,36.5 C31.67,36.42 29.5,37.58 28,37.5 C26.5,37.42 25.08,37.25 24,36 C22.92,34.75 21.72,32.42 21.5,30 C21.28,27.58 22,24.5 22.7,21.5 C23.4,18.5 24.7,16.25 25.7,12 C26.7,7.75 18.65,-1.33 28.7,-4Z" fill="#393939" /><path d="M32.22,44.02 L33.36,43.11 L34.89,41.89 L36.71,40.43 L38.72,38.82 L40.83,37.14 L42.94,35.47 L44.95,33.89 L46.76,32.47 L48.45,31.18 L50.12,29.91 L51.78,28.67 L53.41,27.47 L55,26.29 L56.53,25.15 L58.01,24.04 L59.4,22.98 L60.76,21.93 L62.1,20.88 L63.39,19.86 L64.61,18.89 L65.73,17.99 L66.71,17.19 L67.54,16.52 L68.19,16.01 L65.81,12.79 L65.12,13.26 L64.24,13.87 L63.19,14.58 L62.02,15.39 L60.74,16.26 L59.39,17.17 L58,18.1 L56.6,19.02 L55.15,19.95 L53.62,20.92 L52.02,21.93 L50.34,22.98 L48.62,24.07 L46.85,25.19 L45.05,26.35 L43.24,27.53 L41.29,28.82 L39.14,30.26 L36.89,31.78 L34.65,33.3 L32.52,34.75 L30.59,36.07 L28.98,37.17 L27.78,37.98Z" fill="#e2e2e2" stroke="#e2e2e2" stroke-width="0.6" stroke-linejoin="round"/><path d="M67,14.4 C67.25,13 68.3,8.57 68.5,6 C68.7,3.43 68.25,0.17 68.2,-1" fill="none" stroke="#e2e2e2" stroke-width="2.5" stroke-linecap="round" stroke-linejoin="round" /><path d="M67,14.4 C68.8,14.6 76,15.4 77.8,15.6" fill="none" stroke="#e2e2e2" stroke-width="2.5" stroke-linecap="round" stroke-linejoin="round" /><path d="M30.71,47.99 L31.83,48.05 L33.35,48.13 L35.14,48.23 L37.11,48.33 L39.15,48.46 L41.15,48.6 L43.01,48.75 L44.6,48.93 L45.97,49.12 L47.28,49.36 L48.55,49.63 L49.77,49.91 L50.97,50.21 L52.16,50.5 L53.35,50.77 L54.54,51.01 L55.74,51.22 L56.95,51.42 L58.15,51.6 L59.29,51.76 L60.36,51.9 L61.3,52.03 L62.09,52.14 L62.69,52.22 L63.31,48.78 L62.71,48.64 L61.92,48.48 L60.99,48.28 L59.96,48.05 L58.85,47.81 L57.7,47.55 L56.56,47.27 L55.46,46.99 L54.39,46.69 L53.31,46.35 L52.17,45.98 L50.98,45.59 L49.72,45.19 L48.37,44.79 L46.94,44.42 L45.4,44.07 L43.68,43.75 L41.75,43.44 L39.71,43.14 L37.64,42.85 L35.66,42.59 L33.87,42.36 L32.39,42.16 L31.29,42.01Z" fill="#e2e2e2" stroke="#e2e2e2" stroke-width="0.6" stroke-linejoin="round"/><ellipse cx="73" cy="50.3" rx="5.5" ry="2.6" transform="rotate(0 73 50.3)" fill="#e8e8e8" /><path d="M-4,55 C-2,52 4,52.67 8,52 C12,51.33 17,50.75 20,51 C23,51.25 25.33,52.33 26,53.5 C26.67,54.67 25.67,56.42 24,58 C22.33,59.58 19,61.33 16,63 C13,64.67 9.33,66.83 6,68 C2.67,69.17 -2.33,72.17 -4,70 C-5.67,67.83 -6,58 -4,55Z" fill="#262626" /></g></svg>
<svg x="236" y="37" width="85.3" height="72" viewBox="0 0 85.3 72" preserveAspectRatio="none" overflow="hidden"><g filter="url(#fc)"><rect x="-4" y="-4" width="93.3" height="80" fill="#eeeeee"/><path d="M31.4,-4 C41.42,-6.77 79.4,-17.33 89,-4 C98.6,9.33 97.97,62.67 89,76 C80.03,89.33 44.28,78.67 35.2,76 C26.12,73.33 34.5,63.25 34.5,60 C34.5,56.75 34.28,57.67 35.2,56.5 C36.12,55.33 39.7,55.08 40,53 C40.3,50.92 38.17,45.75 37,44 C35.83,42.25 34.57,42.72 33,42.5 C31.43,42.28 29.02,43.5 27.6,42.7 C26.18,41.9 24.92,40.63 24.5,37.7 C24.08,34.77 24.37,29.28 25.1,25.1 C25.83,20.92 27.85,17.45 28.9,12.6 C29.95,7.75 21.38,-1.23 31.4,-4Z" fill="#3c3c3c" /><ellipse cx="44" cy="34" rx="9" ry="5" transform="rotate(-30 44 34)" fill="#d8d8d8" opacity="0.5"/><path d="M38,38 C39.33,36.33 44.67,29.67 46,28" fill="none" stroke="#cfcfcf" stroke-width="1.5" stroke-linecap="round" stroke-linejoin="round" /><path d="M42,40 C43.67,38.33 50.33,31.67 52,30" fill="none" stroke="#c8c8c8" stroke-width="1.3" stroke-linecap="round" stroke-linejoin="round" /><path d="M35.59,45.84 L36.81,45.12 L38.45,44.17 L40.41,43.04 L42.58,41.77 L44.87,40.44 L47.18,39.08 L49.41,37.76 L51.46,36.53 L53.41,35.36 L55.41,34.17 L57.44,32.96 L59.45,31.75 L61.4,30.55 L63.25,29.37 L64.98,28.22 L66.53,27.1 L67.89,26.02 L69.05,24.97 L70.03,23.97 L70.87,23.02 L71.61,22.13 L72.3,21.3 L72.97,20.51 L73.72,19.71 L74.59,18.83 L75.56,17.86 L76.56,16.87 L77.54,15.9 L78.47,14.98 L79.31,14.15 L80.02,13.45 L80.55,12.93 L77.45,9.67 L76.9,10.18 L76.17,10.84 L75.3,11.64 L74.33,12.53 L73.31,13.47 L72.27,14.43 L71.25,15.38 L70.28,16.29 L69.39,17.18 L68.58,18.06 L67.84,18.9 L67.13,19.69 L66.39,20.46 L65.58,21.23 L64.62,22.04 L63.47,22.9 L62.05,23.84 L60.42,24.85 L58.61,25.9 L56.68,27 L54.66,28.11 L52.6,29.24 L50.55,30.36 L48.54,31.47 L46.47,32.62 L44.21,33.84 L41.87,35.11 L39.55,36.35 L37.34,37.53 L35.35,38.6 L33.67,39.49 L32.41,40.16Z" fill="#ececec" stroke="#ececec" stroke-width="0.6" stroke-linejoin="round"/><path d="M37,50 C38.33,50.67 42.38,52.7 45,54 C47.62,55.3 51.42,57.17 52.7,57.8" fill="none" stroke="#ececec" stroke-width="3.5" stroke-linecap="round" stroke-linejoin="round" /><ellipse cx="18.8" cy="66.5" rx="10.5" ry="6.5" transform="rotate(-10 18.8 66.5)" fill="#333" /><circle cx="49" cy="6.9" r="1.2" fill="#ccc"/><path d="M58,11 C58.67,10.33 61.33,7.67 62,7" fill="none" stroke="#ccc" stroke-width="1.4" stroke-linecap="round" stroke-linejoin="round" /><circle cx="62.8" cy="44" r="1.1" fill="#ccc"/><circle cx="76.6" cy="33.9" r="1.3" fill="#ccc"/><circle cx="80.4" cy="64" r="1.3" fill="#ccc"/></g></svg>
<svg x="334.1" y="37" width="80.6" height="72.3" viewBox="0 0 80.6 72.3" preserveAspectRatio="none" overflow="hidden"><g filter="url(#fc)"><rect x="-4" y="-4" width="88.6" height="80.3" fill="#d8d8d8"/><path d="M27.8,-4 C37.73,-6.63 75.47,-17.33 85,-4 C94.53,9.33 94.23,62.67 85,76 C75.77,89.33 38.93,78.67 29.6,76 C20.27,73.33 29,63.8 29,60 C29,56.2 28.77,54.7 29.6,53.2 C30.43,51.7 33.43,52.2 34,51 C34.57,49.8 33.55,47.67 33,46 C32.45,44.33 32.27,41.77 30.7,41 C29.13,40.23 25.27,42.32 23.6,41.4 C21.93,40.48 20.88,38.47 20.7,35.5 C20.52,32.53 21.72,27.55 22.5,23.6 C23.28,19.65 24.52,16.4 25.4,11.8 C26.28,7.2 17.87,-1.37 27.8,-4Z" fill="#454545" /><path d="M29,41.5 C31.67,39.92 39.5,35.58 45,32 C50.5,28.42 57.67,24.35 62,20 C66.33,15.65 69.5,8.25 71,5.9" fill="none" stroke="#e4e4e4" stroke-width="4.7" stroke-linecap="round" stroke-linejoin="round" /><path d="M31,30 C32.17,29.33 36.83,26.67 38,26" fill="none" stroke="#bbb" stroke-width="2.2" stroke-linecap="round" stroke-linejoin="round" /><path d="M34,35 C35.67,33.17 42.33,25.83 44,24" fill="none" stroke="#aaa" stroke-width="2" stroke-linecap="round" stroke-linejoin="round" /><path d="M30,49.7 C32.1,49.88 40.5,50.62 42.6,50.8" fill="none" stroke="#ddd" stroke-width="3" stroke-linecap="round" stroke-linejoin="round" /><path d="M-4,61.5 C-1.75,58.68 5.88,59.4 9.5,59.1 C13.12,58.8 16.03,58.9 17.7,59.7 C19.37,60.5 19.68,62.22 19.5,63.9 C19.32,65.58 17.85,67.78 16.6,69.8 C15.35,71.82 15.43,74.97 12,76 C8.57,77.03 -1.33,78.42 -4,76 C-6.67,73.58 -6.25,64.32 -4,61.5Z" fill="#333" /><ellipse cx="75.7" cy="57.9" rx="5" ry="1.8" transform="rotate(0 75.7 57.9)" fill="#e6e6e6" /><path d="M37,61 C37.17,62 37.83,66 38,67" fill="none" stroke="#bbb" stroke-width="1.4" stroke-linecap="round" stroke-linejoin="round" /></g></svg>
<svg x="428" y="37" width="82.8" height="72.3" viewBox="0 0 82.8 72.3" preserveAspectRatio="none" overflow="hidden"><g filter="url(#fc)"><rect x="-4" y="-4" width="90.8" height="80.3" fill="#dcdcdc"/><path d="M30.3,-4 C39.85,-6.68 77.55,-17.33 87,-4 C96.45,9.33 96.17,62.67 87,76 C77.83,89.33 40.92,78.33 32,76 C23.08,73.67 32.77,67 33.5,62 C34.23,57 36.48,49.17 36.4,46 C36.32,42.83 34.23,44 33,43 C31.77,42 29.65,43.13 29,40 C28.35,36.87 28.98,28.85 29.1,24.2 C29.22,19.55 29.5,16.8 29.7,12.1 C29.9,7.4 20.75,-1.32 30.3,-4Z" fill="#424242" /><path d="M32.7,29.1 C33.42,27.58 34.98,25.72 36.4,24.8 C37.82,23.88 39.6,23.9 41.2,23.6 C42.8,23.3 43.78,23.5 46,23 C48.22,22.5 51.87,21.6 54.5,20.6 C57.13,19.6 60.18,18.42 61.8,17 C63.42,15.58 63.5,13.72 64.2,12.1 C64.9,10.48 65.38,7.9 66,7.3 C66.62,6.7 67.7,7.08 67.9,8.5 C68.1,9.92 66.4,14.08 67.2,15.8 C68,17.52 71.58,18 72.7,18.8 C73.82,19.6 74.7,20.2 73.9,20.6 C73.1,21 70.12,20.6 67.9,21.2 C65.68,21.8 63.23,22.88 60.6,24.2 C57.97,25.52 54.73,27.48 52.1,29.1 C49.47,30.72 46.82,32.28 44.8,33.9 C42.78,35.52 41.4,37.58 40,38.8 C38.6,40.02 37.42,41.2 36.4,41.2 C35.38,41.2 34.62,40.02 33.9,38.8 C33.18,37.58 32.3,35.52 32.1,33.9 C31.9,32.28 31.98,30.62 32.7,29.1Z" fill="#e4e4e4" /><circle cx="31.5" cy="41.5" r="3.2" fill="#d8d8d8"/><ellipse cx="29.1" cy="55" rx="6.5" ry="8.3" transform="rotate(20 29.1 55)" fill="#383838" /><path d="M35.5,45 C35.25,46.83 34.47,52.5 34,56 C33.53,59.5 32.92,64.33 32.7,66" fill="none" stroke="#d8d8d8" stroke-width="1.8" stroke-linecap="round" stroke-linejoin="round" /><path d="M52.5,48.5 C52.75,48 53.58,46.75 55,47.5 C56.42,48.25 59.17,51.25 61,53 C62.83,54.75 64.75,56.5 66,58 C67.25,59.5 68.33,61.08 68.5,62 C68.67,62.92 67.92,63.67 67,63.5 C66.08,63.33 64.5,62.25 63,61 C61.5,59.75 59.58,57.75 58,56 C56.42,54.25 54.42,51.75 53.5,50.5 C52.58,49.25 52.25,49 52.5,48.5Z" fill="#e2e2e2" /><path d="M36.4,42.4 C39.5,42.17 48.73,41.4 55,41 C61.27,40.6 70.83,40.17 74,40" fill="none" stroke="#5a5a5a" stroke-width="1" stroke-linecap="round" stroke-linejoin="round" /><path d="M44,10 C44.67,9 47.33,5 48,4" fill="none" stroke="#777" stroke-width="1.2" stroke-linecap="round" stroke-linejoin="round" /><path d="M52,12 C52.5,10.5 54.5,4.5 55,3" fill="none" stroke="#777" stroke-width="1.2" stroke-linecap="round" stroke-linejoin="round" /></g></svg>
<svg x="524.3" y="37" width="75.1" height="72.3" viewBox="0 0 75.1 72.3" preserveAspectRatio="none" overflow="hidden"><g filter="url(#fc)"><rect x="-4" y="-4" width="83.1" height="80.3" fill="#c8c8c8"/><path d="M23.9,-4 C33,-6.52 69.82,-17.33 79,-4 C88.18,9.33 87.37,62.67 79,76 C70.63,89.33 37.47,79.33 28.8,76 C20.13,72.67 27.13,60.33 27,56 C26.87,51.67 28.17,51.83 28,50 C27.83,48.17 26.42,49.63 26,45 C25.58,40.37 25.77,27.85 25.5,22.2 C25.23,16.55 24.67,15.47 24.4,11.1 C24.13,6.73 14.8,-1.48 23.9,-4Z" fill="#383838" /><path d="M24,22 C25.5,17.87 30.17,22.45 33,22.2 C35.83,21.95 38.67,20.7 41,20.5 C43.33,20.3 45.17,21.08 47,21 C48.83,20.92 50.33,20.25 52,20 C53.67,19.75 55.33,19.42 57,19.5 C58.67,19.58 60.5,20.17 62,20.5 C63.5,20.83 65.67,20.75 66,21.5 C66.33,22.25 65.67,24.17 64,25 C62.33,25.83 58.33,25.33 56,26.5 C53.67,27.67 52.33,29.92 50,32 C47.67,34.08 44.33,37 42,39 C39.67,41 38,42.67 36,44 C34,45.33 32,46.5 30,47 C28,47.5 25,51.17 24,47 C23,42.83 22.5,26.13 24,22Z" fill="#d0d0d0" /><path d="M51.93,22.96 L52.44,22.36 L53.15,21.56 L53.99,20.59 L54.93,19.51 L55.89,18.4 L56.83,17.29 L57.7,16.25 L58.45,15.32 L59.07,14.5 L59.62,13.72 L60.11,13 L60.54,12.32 L60.93,11.69 L61.31,11.09 L61.69,10.52 L62.09,9.96 L62.54,9.38 L63.04,8.76 L63.56,8.14 L64.08,7.54 L64.58,6.98 L65.03,6.47 L65.41,6.05 L65.7,5.71 L64.3,4.29 L63.97,4.56 L63.53,4.92 L63.01,5.35 L62.42,5.83 L61.79,6.36 L61.15,6.91 L60.52,7.47 L59.91,8.04 L59.35,8.61 L58.83,9.17 L58.33,9.74 L57.84,10.3 L57.33,10.87 L56.8,11.45 L56.21,12.05 L55.55,12.68 L54.74,13.41 L53.76,14.26 L52.68,15.18 L51.57,16.11 L50.49,17.01 L49.51,17.84 L48.68,18.53 L48.07,19.04Z" fill="#d4d4d4" stroke="#d4d4d4" stroke-width="0.6" stroke-linejoin="round"/><path d="M57.74,22.98 L58.37,23.03 L59.21,23.09 L60.22,23.16 L61.33,23.24 L62.51,23.32 L63.69,23.4 L64.82,23.46 L65.85,23.51 L66.84,23.55 L67.88,23.57 L68.91,23.58 L69.92,23.59 L70.86,23.59 L71.69,23.59 L72.4,23.59 L72.93,23.6 L73.07,21.4 L72.54,21.34 L71.84,21.25 L71.01,21.15 L70.08,21.04 L69.1,20.91 L68.09,20.78 L67.1,20.63 L66.15,20.49 L65.17,20.32 L64.08,20.13 L62.94,19.92 L61.79,19.7 L60.7,19.49 L59.71,19.3 L58.88,19.13 L58.26,19.02Z" fill="#d4d4d4" stroke="#d4d4d4" stroke-width="0.6" stroke-linejoin="round"/><path d="M29.49,47.93 L30.65,48.25 L32.18,48.67 L34.01,49.17 L36.03,49.73 L38.17,50.32 L40.34,50.93 L42.45,51.53 L44.41,52.1 L46.29,52.66 L48.21,53.26 L50.15,53.86 L52.09,54.48 L54,55.09 L55.85,55.68 L57.64,56.24 L59.33,56.77 L60.97,57.27 L62.61,57.78 L64.22,58.27 L65.76,58.73 L67.17,59.16 L68.43,59.54 L69.49,59.85 L70.3,60.1 L71.7,55.3 L70.87,55.07 L69.8,54.78 L68.54,54.43 L67.12,54.03 L65.58,53.61 L63.96,53.16 L62.31,52.7 L60.67,52.23 L58.99,51.75 L57.21,51.23 L55.34,50.69 L53.41,50.12 L51.45,49.55 L49.48,48.98 L47.52,48.43 L45.59,47.9 L43.6,47.37 L41.45,46.81 L39.26,46.25 L37.09,45.71 L35.05,45.2 L33.21,44.74 L31.67,44.36 L30.51,44.07Z" fill="#d8d8d8" stroke="#d8d8d8" stroke-width="0.6" stroke-linejoin="round"/><ellipse cx="30" cy="36" rx="2.2" ry="1.5" transform="rotate(-30 30 36)" fill="#333" /><ellipse cx="15.5" cy="63.2" rx="8.5" ry="6.5" transform="rotate(-20 15.5 63.2)" fill="#2c2c2c" /><path d="M57.7,62.1 C56.77,63.92 53.03,71.18 52.1,73" fill="none" stroke="#aaa" stroke-width="1.4" stroke-linecap="round" stroke-linejoin="round" /></g></svg>
<svg x="612.2" y="37" width="68.6" height="72" viewBox="0 0 68.6 72" preserveAspectRatio="none" overflow="hidden"><g filter="url(#fc)"><rect x="-4" y="-4" width="76.6" height="80" fill="#c8c8c8"/><path d="M21,-4 C29.25,-6.37 63.5,-17.33 72,-4 C80.5,9.33 80,62.67 72,76 C64,89.33 31.4,79.47 24,76 C16.6,72.53 26.83,59.7 27.6,55.2 C28.37,50.7 28.08,50.2 28.6,49 C29.12,47.8 29.5,48.5 30.7,48 C31.9,47.5 33.77,46.85 35.8,46 C37.83,45.15 41.2,44.73 42.9,42.9 C44.6,41.07 44.98,37.23 46,35 C47.02,32.77 47.75,30.92 49,29.5 C50.25,28.08 53.25,27.58 53.5,26.5 C53.75,25.42 52.27,23.67 50.5,23 C48.73,22.33 46.2,22.67 42.9,22.5 C39.6,22.33 33.6,22.68 30.7,22 C27.8,21.32 26.87,20.37 25.5,18.4 C24.13,16.43 23.25,13.93 22.5,10.2 C21.75,6.47 12.75,-1.63 21,-4Z" fill="#383838" /><path d="M47,25 C47.83,24.25 50.47,21.83 52,20.5 C53.53,19.17 55.5,17.58 56.2,17" fill="none" stroke="#c8c8c8" stroke-width="1.8" stroke-linecap="round" stroke-linejoin="round" /><path d="M50,27 C51.33,27.07 55.6,27.3 58,27.4 C60.4,27.5 63.33,27.57 64.4,27.6" fill="none" stroke="#c4c4c4" stroke-width="1.5" stroke-linecap="round" stroke-linejoin="round" /><circle cx="64.4" cy="27.6" r="1.3" fill="#d0d0d0"/><path d="M34,47.5 C34.42,46.92 35.83,46.25 38,47.5 C40.17,48.75 44.08,52.33 47,55 C49.92,57.67 54.17,61.67 55.5,63.5 C56.83,65.33 55.58,65.67 55,66 C54.42,66.33 53.83,66.83 52,65.5 C50.17,64.17 46.75,60.42 44,58 C41.25,55.58 37.17,52.75 35.5,51 C33.83,49.25 33.58,48.08 34,47.5Z" fill="#d4d4d4" /><path d="M27.6,55.2 C27,56.5 25.2,60.2 24,63 C22.8,65.8 21,70.5 20.4,72" fill="none" stroke="#c8c8c8" stroke-width="1.6" stroke-linecap="round" stroke-linejoin="round" /><path d="M6.1,62 C6.93,60.25 9.35,58.63 12,57.5 C14.65,56.37 19.75,55.45 22,55.2 C24.25,54.95 25.17,54.87 25.5,56 C25.83,57.13 25.08,60 24,62 C22.92,64 20.83,66.58 19,68 C17.17,69.42 15,70.5 13,70.5 C11,70.5 8.15,69.42 7,68 C5.85,66.58 5.27,63.75 6.1,62Z" fill="#2a2a2a" /><circle cx="36" cy="1" r="1.3" fill="#eee"/><path d="M38,5 C39,6.17 43,10.83 44,12" fill="none" stroke="#555" stroke-width="1.1" stroke-linecap="round" stroke-linejoin="round" /><path d="M55,8 C56.17,9 60.83,13 62,14" fill="none" stroke="#555" stroke-width="1.1" stroke-linecap="round" stroke-linejoin="round" /></g></svg>
<polyline points="88.55,109.3 112.9,154 384.1,287.5" fill="none" stroke="#c4c4c4" stroke-width="1.3" stroke-dasharray="4.7 4.1"/>
<polyline points="183.95,109 195.2,154 411.4,287.5" fill="none" stroke="#c4c4c4" stroke-width="1.3" stroke-dasharray="4.7 4.1"/>
<polyline points="278.65,109 284,154 451.9,284.3" fill="none" stroke="#c4c4c4" stroke-width="1.3" stroke-dasharray="4.7 4.1"/>
<polyline points="374.4,109.3 321.8,154 459.9,280.3" fill="none" stroke="#c4c4c4" stroke-width="1.3" stroke-dasharray="4.7 4.1"/>
<polyline points="469.4,109.3 398.4,154 508,305.9" fill="none" stroke="#c4c4c4" stroke-width="1.3" stroke-dasharray="4.7 4.1"/>
<polyline points="561.85,109.3 493.5,154 527,295" fill="none" stroke="#c4c4c4" stroke-width="1.3" stroke-dasharray="4.7 4.1"/>
<polyline points="646.5,109 639.5,154 569,286.6" fill="none" stroke="#c4c4c4" stroke-width="1.3" stroke-dasharray="4.7 4.1"/>
<line x1="48.2" y1="154" x2="668.5" y2="154" stroke="#000" stroke-width="2.3"/>
<path d="M677.5,154 L666.8,148.1 L668.9,154 L666.8,159.9 Z" fill="#000"/>
<line x1="68" y1="145.8" x2="68" y2="154" stroke="#000" stroke-width="1.5"/>
<text x="68.3" y="141.4" font-size="12.6" text-anchor="middle">2018</text>
<line x1="144" y1="145.8" x2="144" y2="154" stroke="#000" stroke-width="1.5"/>
<text x="143.7" y="141.4" font-size="12.6" text-anchor="middle">2019</text>
<line x1="220.9" y1="145.8" x2="220.9" y2="154" stroke="#000" stroke-width="1.5"/>
<text x="219.5" y="141.4" font-size="12.6" text-anchor="middle">2020</text>
<line x1="296.3" y1="145.8" x2="296.3" y2="154" stroke="#000" stroke-width="1.5"/>
<text x="295" y="141.4" font-size="12.6" text-anchor="middle">2021</text>
<line x1="372.7" y1="145.8" x2="372.7" y2="154" stroke="#000" stroke-width="1.5"/>
<text x="371.2" y="141.4" font-size="12.6" text-anchor="middle">2022</text>
<line x1="449.1" y1="145.8" x2="449.1" y2="154" stroke="#000" stroke-width="1.5"/>
<text x="447.1" y="141.4" font-size="12.6" text-anchor="middle">2023</text>
<line x1="525.5" y1="145.8" x2="525.5" y2="154" stroke="#000" stroke-width="1.5"/>
<text x="522.5" y="141.4" font-size="12.6" text-anchor="middle">2024</text>
<line x1="601.2" y1="145.8" x2="601.2" y2="154" stroke="#000" stroke-width="1.5"/>
<text x="598.2" y="141.4" font-size="12.6" text-anchor="middle">2025</text>
<circle cx="112.9" cy="154" r="8.1" fill="#F9E0C0"/>
<circle cx="195.2" cy="154" r="8.1" fill="#F7B796"/>
<circle cx="284" cy="154" r="8.1" fill="#F59C8E"/>
<circle cx="321.8" cy="154" r="8.1" fill="#E4918C"/>
<circle cx="398.4" cy="154" r="8.1" fill="#D05A28"/>
<circle cx="493.5" cy="154" r="8.1" fill="#DC2834"/>
<circle cx="639.5" cy="154" r="8.1" fill="#8B0004"/>
<text x="613.1" y="174.7" font-size="12.8">Time (year)</text>
<path d="M48.5,174.4 V395.5 H678.7" fill="none" stroke="#000" stroke-width="1.1"/>
<line x1="44.7" y1="185.6" x2="48.5" y2="185.6" stroke="#000" stroke-width="1.1"/>
<text transform="translate(41.6,185.6) rotate(-90)" font-size="15" text-anchor="middle">0.6</text>
<line x1="44.7" y1="235.8" x2="48.5" y2="235.8" stroke="#000" stroke-width="1.1"/>
<text transform="translate(41.6,235.8) rotate(-90)" font-size="15" text-anchor="middle">0.2</text>
<line x1="44.7" y1="285.8" x2="48.5" y2="285.8" stroke="#000" stroke-width="1.1"/>
<text transform="translate(41.6,285.8) rotate(-90)" font-size="15" text-anchor="middle">0</text>
<line x1="44.7" y1="336" x2="48.5" y2="336" stroke="#000" stroke-width="1.1"/>
<text transform="translate(41.6,336) rotate(-90)" font-size="15" text-anchor="middle">−0.2</text>
<line x1="44.7" y1="386.3" x2="48.5" y2="386.3" stroke="#000" stroke-width="1.1"/>
<text transform="translate(41.6,386.3) rotate(-90)" font-size="15" text-anchor="middle">−0.6</text>
<text transform="translate(23.2,285.8) rotate(-90)" font-size="15" text-anchor="middle">PC2</text>
<line x1="73.9" y1="395.5" x2="73.9" y2="399.6" stroke="#000" stroke-width="1.1"/>
<text x="73.9" y="418" font-size="15" text-anchor="middle">2</text>
<line x1="240.9" y1="395.5" x2="240.9" y2="399.6" stroke="#000" stroke-width="1.1"/>
<text x="240.9" y="418" font-size="15" text-anchor="middle">1</text>
<line x1="407.9" y1="395.5" x2="407.9" y2="399.6" stroke="#000" stroke-width="1.1"/>
<text x="407.9" y="418" font-size="15" text-anchor="middle">0</text>
<line x1="574.9" y1="395.5" x2="574.9" y2="399.6" stroke="#000" stroke-width="1.1"/>
<text x="574.9" y="418" font-size="15" text-anchor="middle">−1</text>
<text x="377" y="436" font-size="15" text-anchor="middle">PC1</text>
<path d="M102.8,275.35 L107.37,275.51 L111.95,275.67 L116.52,275.84 L121.09,276 L125.67,276.17 L130.24,276.33 L134.81,276.5 L139.38,276.68 L143.96,276.85 L148.53,277.03 L153.1,277.21 L157.68,277.39 L162.25,277.58 L166.82,277.78 L171.4,277.98 L175.97,278.18 L180.54,278.38 L185.12,278.59 L189.69,278.8 L194.26,279.01 L198.84,279.22 L203.41,279.43 L207.98,279.64 L212.55,279.85 L217.13,280.06 L221.7,280.26 L226.27,280.46 L230.85,280.65 L235.42,280.84 L239.99,281.02 L244.57,281.2 L249.14,281.37 L253.71,281.53 L258.29,281.69 L262.86,281.84 L267.43,282 L272.01,282.17 L276.58,282.35 L281.15,282.54 L285.72,282.76 L290.3,283 L294.87,283.26 L299.44,283.56 L304.02,283.9 L308.59,284.26 L313.16,284.65 L317.74,285.06 L322.31,285.49 L326.88,285.94 L331.46,286.4 L336.03,286.87 L340.6,287.35 L345.17,287.83 L349.75,288.31 L354.32,288.79 L358.89,289.26 L363.47,289.71 L368.04,290.15 L372.61,290.56 L377.19,290.94 L381.76,291.28 L386.33,291.59 L390.91,291.87 L395.48,292.1 L400.05,292.3 L404.63,292.46 L409.2,292.58 L413.77,292.66 L418.34,292.71 L422.92,292.71 L427.49,292.68 L432.06,292.61 L436.64,292.5 L441.21,292.36 L445.78,292.18 L450.36,291.96 L454.93,291.71 L459.5,291.41 L464.08,291.08 L468.65,290.7 L473.22,290.28 L477.79,289.81 L482.37,289.3 L486.94,288.75 L491.51,288.17 L496.09,287.56 L500.66,286.93 L505.23,286.29 L509.81,285.63 L514.38,284.96 L518.95,284.29 L523.53,283.61 L528.1,282.93 L532.67,282.25 L537.25,281.56 L541.82,280.88 L546.39,280.19 L550.96,279.51 L555.54,278.83 L560.11,278.16 L564.68,277.49 L569.26,276.83 L573.83,276.17 L578.4,275.52 L582.98,274.89 L587.55,274.26 L592.12,273.64 L596.7,273.04 L601.27,272.44 L605.84,271.85 L610.42,271.27 L614.99,270.7 L619.56,270.14 L624.13,269.59 L628.71,269.04 L633.28,268.5 L637.85,267.97 L642.43,267.43 L647,266.9" fill="none" stroke="#000" stroke-width="2.6" stroke-linecap="round"/>
<path d="M655.2,266.1 L644,261.7 L646.9,266.9 L645.4,273.1 Z" fill="#000"/>
<circle cx="384.1" cy="287.5" r="8.1" fill="#F9E0C0"/>
<text x="384.1" y="292.2" font-size="13" font-weight="bold" text-anchor="middle" fill="#000">1</text>
<circle cx="411.4" cy="287.5" r="8.1" fill="#F7B796"/>
<text x="411.4" y="292.2" font-size="13" font-weight="bold" text-anchor="middle" fill="#000">2</text>
<circle cx="451.9" cy="284.3" r="8.1" fill="#F59C8E"/>
<text x="451.9" y="289" font-size="13" font-weight="bold" text-anchor="middle" fill="#000">3</text>
<circle cx="459.9" cy="280.3" r="8.1" fill="#E4918C"/>
<text x="459.9" y="285" font-size="13" font-weight="bold" text-anchor="middle" fill="#000">4</text>
<circle cx="508" cy="305.9" r="8.1" fill="#D05A28"/>
<text x="508" y="310.6" font-size="13" font-weight="bold" text-anchor="middle" fill="#000">5</text>
<circle cx="527" cy="295" r="8.1" fill="#DC2834"/>
<text x="527" y="299.7" font-size="13" font-weight="bold" text-anchor="middle" fill="#000">6</text>
<circle cx="569" cy="286.6" r="8.1" fill="#8B0004"/>
<text x="569" y="291.3" font-size="13" font-weight="bold" text-anchor="middle" fill="#fff">7</text>
</g>
</svg></body></html>
